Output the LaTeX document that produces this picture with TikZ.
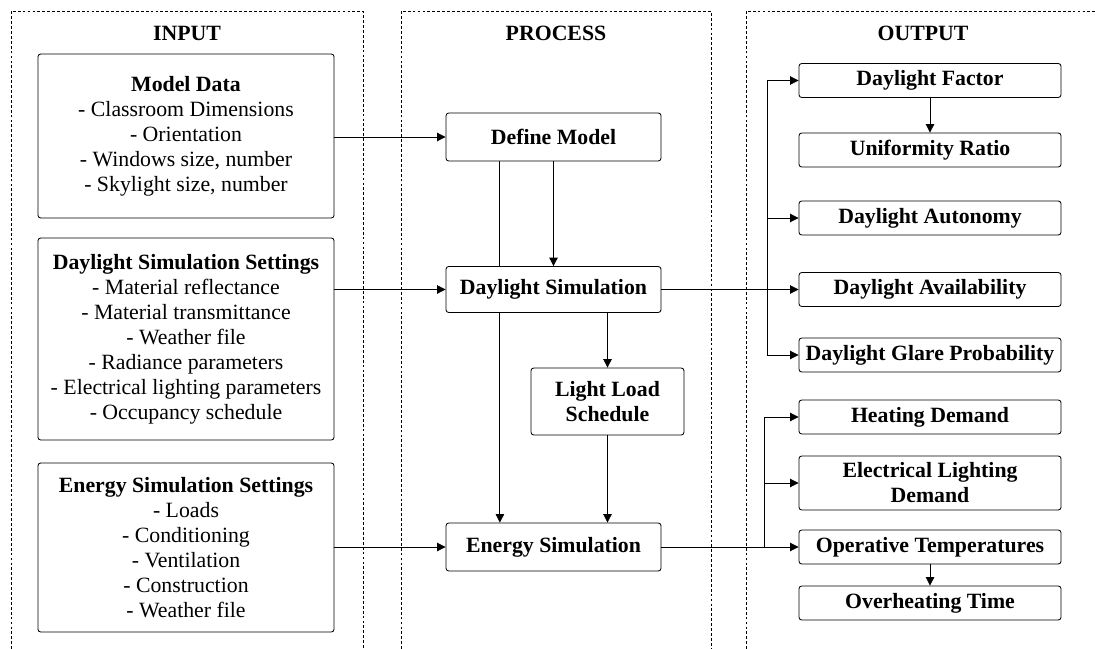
\documentclass[tikz,border=0pt]{standalone}
\usepackage{fontspec}
\setmainfont{Liberation Serif}
\newfontfamily\timesfont{Liberation Serif}
\usetikzlibrary{arrows.meta,backgrounds}
\begin{document}
\begin{tikzpicture}[x=0.025cm,y=-0.025cm,
  font=\timesfont\fontsize{15.5}{17.8}\selectfont,
  box/.style={draw,line width=0.6pt,rounded corners=2pt,fill=white,align=center,inner sep=1pt},
  inbox/.style={box,minimum width=7.4cm},
  procbox/.style={box,minimum width=5.375cm,font=\timesfont\fontsize{15.5}{17.8}\selectfont\bfseries},
  outbox/.style={box,minimum width=6.55cm,minimum height=0.85cm,font=\timesfont\fontsize{15.5}{17.8}\selectfont\bfseries},
  arr/.style={line width=0.6pt,-{Triangle[length=6pt,width=6pt]}},
  panel/.style={line width=0.5pt,dash pattern=on 2pt off 1.5pt},
  title/.style={font=\timesfont\fontsize{15.5}{17.8}\selectfont\bfseries}]
\useasboundingbox (0,0) rectangle (1095,649);
%\draw[step=50,gray,very thin] (0,0) grid (1095,649);
\draw[panel] (11,649) -- (11,11) -- (363,11) -- (363,649);
\draw[panel] (401,649) -- (401,11) -- (711,11) -- (711,649);
\draw[panel] (746,649) -- (746,11) -- (1095,11);
\node[title] (tin) at (187,33) {INPUT};
\node[title] (tproc) at (556,33) {PROCESS};
\node[title] (tout) at (923,33) {OUTPUT};

\node[inbox,minimum height=4.1cm] (mdata) at (186,136) {\textbf{Model Data}\\- Classroom Dimensions\\- Orientation\\- Windows size, number\\- Skylight size, number};
\node[inbox,minimum height=5.05cm] (dsset) at (186,339) {\textbf{Daylight Simulation Settings}\\- Material reflectance\\- Material transmittance\\- Weather file\\- Radiance parameters\\- Electrical lighting parameters\\- Occupancy schedule};
\node[inbox,minimum height=4.225cm] (esset) at (186,547.5) {\textbf{Energy Simulation Settings}\\- Loads\\- Conditioning\\- Ventilation\\- Construction\\- Weather file};

\node[procbox,minimum height=1.2cm] (define) at (553.5,137) {Define Model};
\node[procbox,minimum height=1.15cm] (daysim) at (553.5,289.5) {Daylight Simulation};
\node[procbox,minimum width=3.825cm,minimum height=1.675cm] (lls) at (607.5,401.5) {Light Load\\Schedule};
\node[procbox,minimum height=1.2cm] (ensim) at (553.5,547) {Energy Simulation};

\node[outbox] (df) at (930,80.5) {Daylight Factor};
\node[outbox] (ur) at (930,150) {Uniformity Ratio};
\node[outbox] (da) at (930,218) {Daylight Autonomy};
\node[outbox] (dav) at (930,289.5) {Daylight Availability};
\node[outbox] (dgp) at (930,355) {Daylight Glare Probability};
\node[outbox] (hd) at (930,417) {Heating Demand};
\node[outbox,minimum height=1.35cm] (eld) at (930,483) {Electrical Lighting\\Demand};
\node[outbox] (ot) at (930,547) {Operative Temperatures};
\node[outbox] (oh) at (930,603) {Overheating Time};

\begin{pgfonlayer}{background}
\draw[arr] ([xshift=-1.34cm]define.south) -- ([xshift=-1.34cm]ensim.north);
\end{pgfonlayer}
\draw[arr] (mdata.east |- define.west) -- (define.west);
\draw[arr] (dsset.east |- daysim.west) -- (daysim.west);
\draw[arr] (esset.east |- ensim.west) -- (ensim.west);
\draw[arr] (define) -- (daysim);
\draw[arr] (lls.north |- daysim.south) -- (lls.north);
\draw[arr] (lls.south) -- (lls.south |- ensim.north);

\coordinate (dbus) at (767,289.5);
\draw[arr] (daysim.east) -- (dav.west);
\draw[arr] (dbus) |- (df.west);
\draw[arr] (dbus) |- (dgp.west);
\draw[arr] (dbus |- da.west) -- (da.west);
\draw[arr] (df) -- (ur);

\coordinate (ebus) at (764,547);
\draw[arr] (ensim.east) -- (ot.west);
\draw[arr] (ebus) |- (hd.west);
\draw[arr] (ebus |- eld.west) -- (eld.west);
\draw[arr] (ot) -- (oh);
\end{tikzpicture}
\end{document}
